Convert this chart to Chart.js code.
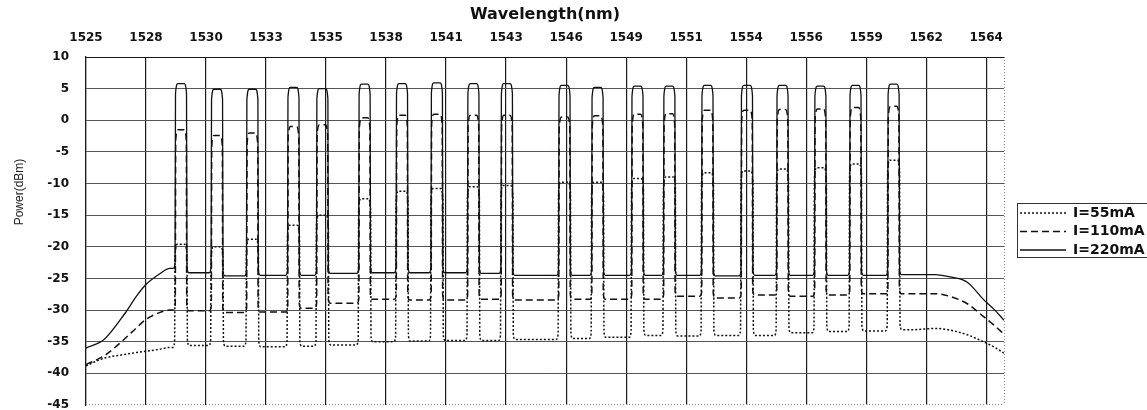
<!DOCTYPE html>
<html>
<head>
<meta charset="utf-8">
<title>Power(dBm) vs Wavelength(nm)</title>
<script src="https://cdn.jsdelivr.net/npm/chart.js@4.4.1/dist/chart.umd.min.js"></script>
<style>
  html, body { margin: 0; padding: 0; background: #fff; }
  #wrap { width: 1147px; height: 410px; }
</style>
</head>
<body>
<div id="wrap"><canvas id="spectrum" width="1147" height="410"></canvas></div>
<script>
// axis labels along the wavelength scale (one every tickStep nm from 1525)
const tickLabels = [1525, 1528, 1530, 1533, 1535, 1538, 1541, 1543, 1546, 1549, 1551, 1554, 1556, 1559, 1562, 1564];
const tickStep = 2.615;

const seriesNames = ['I=55mA', 'I=110mA', 'I=220mA'];

// channel centre wavelengths (nm)
const channelNm = [1529.14, 1530.71, 1532.25, 1534.04, 1535.30, 1537.14, 1538.77, 1540.29, 1541.88, 1543.34,
                   1545.85, 1547.29, 1549.03, 1550.42, 1552.08, 1553.80, 1555.35, 1557.00, 1558.53, 1560.19];

// channel peak power (dBm)
const peak55  = [-19.6, -20.0, -18.8, -16.6, -15.0, -12.4, -11.2, -10.8, -10.5, -10.3,
                 -9.8, -9.8, -9.2, -8.95, -8.3, -8.0, -7.7, -7.5, -6.9, -6.3];
const peak110 = [-1.5, -2.4, -2.0, -1.0, -0.7, 0.4, 0.8, 0.95, 0.8, 0.8,
                 0.5, 0.7, 0.95, 1.05, 1.6, 1.6, 1.7, 1.8, 2.0, 2.2];
const peak220 = [5.8, 4.9, 4.9, 5.2, 5.0, 5.7, 5.8, 5.9, 5.8, 5.8,
                 5.5, 5.2, 5.4, 5.4, 5.5, 5.5, 5.5, 5.4, 5.5, 5.7];

// noise floor between neighbouring channels (dBm)
const floor55  = [-35.6, -35.7, -35.8, -35.7, -35.5, -35.0, -34.9, -34.8, -34.8, -34.65,
                  -34.5, -34.3, -34.0, -34.1, -34.0, -34.0, -33.6, -33.4, -33.3];
const floor110 = [-30.1, -30.4, -30.3, -29.7, -28.9, -28.3, -28.4, -28.4, -28.3, -28.4,
                  -28.3, -28.3, -28.3, -27.8, -28.1, -27.6, -27.8, -27.6, -27.4];
const floor220 = [-24.1, -24.6, -24.5, -24.5, -24.2, -24.1, -24.1, -24.1, -24.2, -24.5,
                  -24.5, -24.5, -24.5, -24.5, -24.6, -24.5, -24.5, -24.5, -24.5];

// ASE edges below the first and above the last channel
const tailLeftNm  = [1525.0, 1525.8, 1526.7, 1527.2, 1527.6, 1528.2, 1528.65];
const tailLeft55  = [-38.8, -37.6, -37.0, -36.7, -36.5, -36.2, -35.9];
const tailLeft110 = [-38.6, -37.2, -34.5, -32.8, -31.5, -30.4, -30.0];
const tailLeft220 = [-36.0, -34.6, -30.5, -27.8, -26.0, -24.3, -23.4];

const tailRightNm  = [1561.0, 1562.0, 1562.7, 1563.4, 1564.1, 1564.6, 1565.0];
const tailRight55  = [-33.1, -32.9, -33.2, -33.9, -35.0, -35.9, -36.8];
const tailRight110 = [-27.4, -27.4, -27.9, -29.0, -31.0, -32.5, -33.8];
const tailRight220 = [-24.4, -24.4, -24.8, -25.6, -28.3, -30.0, -31.6];

// one OSA trace: left edge, a flat-topped line per channel, right edge
function trace(tops, floors, left, right, halfWidth) {
  const pts = left.map((p, i) => ({ x: tailLeftNm[i], y: p }));
  channelNm.forEach((c, i) => {
    const before = i === 0 ? left[left.length - 1] : floors[i - 1];
    const after = i === channelNm.length - 1 ? right[0] : floors[i];
    pts.push(
      { x: c - halfWidth - 0.08, y: before },
      { x: c - halfWidth, y: before + 0.8 },
      { x: c - halfWidth + 0.02, y: tops[i] - 1.6 },
      { x: c - halfWidth + 0.12, y: tops[i] },
      { x: c + halfWidth - 0.12, y: tops[i] },
      { x: c + halfWidth - 0.02, y: tops[i] - 1.6 },
      { x: c + halfWidth, y: after + 0.8 },
      { x: c + halfWidth + 0.08, y: after }
    );
  });
  right.forEach((p, i) => pts.push({ x: tailRightNm[i], y: p }));
  return pts;
}

const lineBase = {
  borderColor: '#111',
  borderWidth: 1.5,
  pointRadius: 0,
  fill: false,
  cubicInterpolationMode: 'monotone'
};

// chart frame: dotted right and bottom edges
const frame = {
  id: 'frame',
  afterDraw(chart) {
    const { ctx, chartArea: a } = chart;
    ctx.save();
    ctx.strokeStyle = '#888';
    ctx.lineWidth = 1;
    ctx.setLineDash([1, 2]);
    ctx.beginPath();
    ctx.moveTo(a.right + 0.5, a.top);
    ctx.lineTo(a.right + 0.5, a.bottom);
    ctx.moveTo(a.left, a.bottom - 0.5);
    ctx.lineTo(a.right, a.bottom - 0.5);
    ctx.stroke();
    ctx.restore();
  }
};

// rotated y title, sitting a little above the plot centre
const yTitle = {
  id: 'yTitle',
  afterDraw(chart) {
    const { ctx } = chart;
    ctx.save();
    ctx.translate(20, 192);
    ctx.rotate(-Math.PI / 2);
    ctx.font = '12px "Liberation Sans", Arial, sans-serif';
    ctx.fillStyle = '#222';
    ctx.textAlign = 'center';
    ctx.textBaseline = 'middle';
    ctx.fillText('Power(dBm)', 0, 0);
    ctx.restore();
  }
};

// boxed key to the right of the plot
const seriesKey = {
  id: 'seriesKey',
  afterDraw(chart) {
    const { ctx, chartArea: a } = chart;
    const left = a.right + 13;
    const top = (a.top + a.bottom) / 2 - 28;
    ctx.save();
    ctx.strokeStyle = '#333';
    ctx.lineWidth = 1;
    ctx.setLineDash([]);
    ctx.strokeRect(Math.round(left) + 0.5, Math.round(top) + 0.5, 140, 54);
    ctx.font = 'bold 14px "DejaVu Sans", sans-serif';
    ctx.textBaseline = 'middle';
    ctx.fillStyle = '#111';
    chart.data.datasets.forEach((ds, i) => {
      const y = top + 10 + i * 18.5;
      ctx.strokeStyle = ds.borderColor;
      ctx.lineWidth = ds.borderWidth;
      ctx.setLineDash(ds.borderDash || []);
      ctx.beginPath();
      ctx.moveTo(left + 3, y);
      ctx.lineTo(left + 49, y);
      ctx.stroke();
      ctx.fillText(ds.label, left + 56, y);
    });
    ctx.restore();
  }
};

Chart.defaults.font.family = '"DejaVu Sans", sans-serif';
Chart.defaults.color = '#111';

new Chart(document.getElementById('spectrum'), {
  type: 'line',
  data: {
    datasets: [
      { ...lineBase, label: seriesNames[0], borderDash: [2, 2], data: trace(peak55, floor55, tailLeft55, tailRight55, 0.28) },
      { ...lineBase, label: seriesNames[1], borderDash: [7, 4], data: trace(peak110, floor110, tailLeft110, tailRight110, 0.25) },
      { ...lineBase, label: seriesNames[2], borderWidth: 1.3, data: trace(peak220, floor220, tailLeft220, tailRight220, 0.26) }
    ]
  },
  options: {
    responsive: false,
    animation: false,
    layout: { padding: { top: 0, right: 143, bottom: 5, left: 0 } },
    plugins: {
      legend: { display: false },
      tooltip: { enabled: false }
    },
    scales: {
      x: {
        type: 'linear',
        position: 'top',
        min: 1525,
        max: 1565,
        afterBuildTicks: axis => {
          axis.ticks = tickLabels.map((_, i) => ({ value: 1525 + i * tickStep }));
        },
        afterFit: axis => { axis.height = 57; },
        ticks: {
          autoSkip: false,
          maxRotation: 0,
          padding: 12,
          font: { size: 12, weight: 'bold' },
          callback: (value, index) => tickLabels[index]
        },
        grid: { color: '#1a1a1a', lineWidth: 1.2, drawTicks: false },
        border: { color: '#1a1a1a', width: 1 },
        title: {
          display: true,
          text: 'Wavelength(nm)',
          font: { size: 16, weight: 'bold' },
          padding: { top: 5, bottom: 0 }
        }
      },
      y: {
        min: -45,
        max: 10,
        afterFit: axis => {
          axis.width = 86;
          axis.paddingTop = 0;
          axis.paddingBottom = 0;
        },
        ticks: {
          stepSize: 5,
          padding: 17,
          font: { size: 12, weight: 'bold' }
        },
        grid: {
          drawTicks: false,
          lineWidth: 1,
          color: ctx => (ctx.tick && ctx.tick.value === -45 ? 'rgba(0,0,0,0)' : '#555')
        },
        border: { color: '#1a1a1a', width: 1.2 }
      }
    }
  },
  plugins: [frame, yTitle, seriesKey]
});
</script>
</body>
</html>
